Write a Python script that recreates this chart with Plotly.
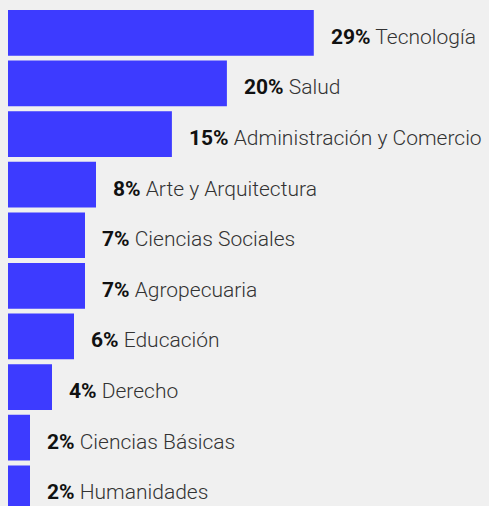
import plotly.graph_objects as go

categories = ["Tecnología", "Salud", "Administración y Comercio", "Arte y Arquitectura",
              "Ciencias Sociales", "Agropecuaria", "Educación", "Derecho",
              "Ciencias Básicas", "Humanidades"]
bar_values = [27.8, 19.9, 14.9, 8.0, 7.0, 7.0, 6.0, 4.0, 2.0, 2.0]
label_pct = [29, 20, 15, 8, 7, 7, 6, 4, 2, 2]

BAR_COLOR = "#3d3bff"
BG = "#f0f0f0"

fig = go.Figure(go.Bar(
    x=bar_values, y=categories, orientation="h",
    marker=dict(color=BAR_COLOR, line=dict(width=0)),
    width=0.903, hoverinfo="skip",
))

for cat, v, p in zip(categories, bar_values, label_pct):
    fig.add_annotation(
        x=v, y=cat, xref="x", yref="y",
        text=f"<span style='font-weight:700;color:#111'>{p}%</span> {cat}",
        showarrow=False, xanchor="left", yanchor="middle",
        xshift=15, yshift=-4,
        font=dict(family="Roboto", size=21, color="#333", weight=300),
    )

fig.update_layout(
    width=489, height=506,
    margin=dict(l=0, r=0, t=0, b=0),
    paper_bgcolor=BG, plot_bgcolor=BG,
    showlegend=False,
    xaxis=dict(range=[-8 / 11, 481 / 11], visible=False, fixedrange=True),
    yaxis=dict(type="category", categoryorder="array", categoryarray=categories,
               range=[9.351, -0.649], visible=False, fixedrange=True),
)

fig.write_html(
    "out.html",
    config={"displayModeBar": False},
    post_script="document.body.style.margin='0';document.body.style.background='#f0f0f0';document.body.style.overflow='hidden';",
)
